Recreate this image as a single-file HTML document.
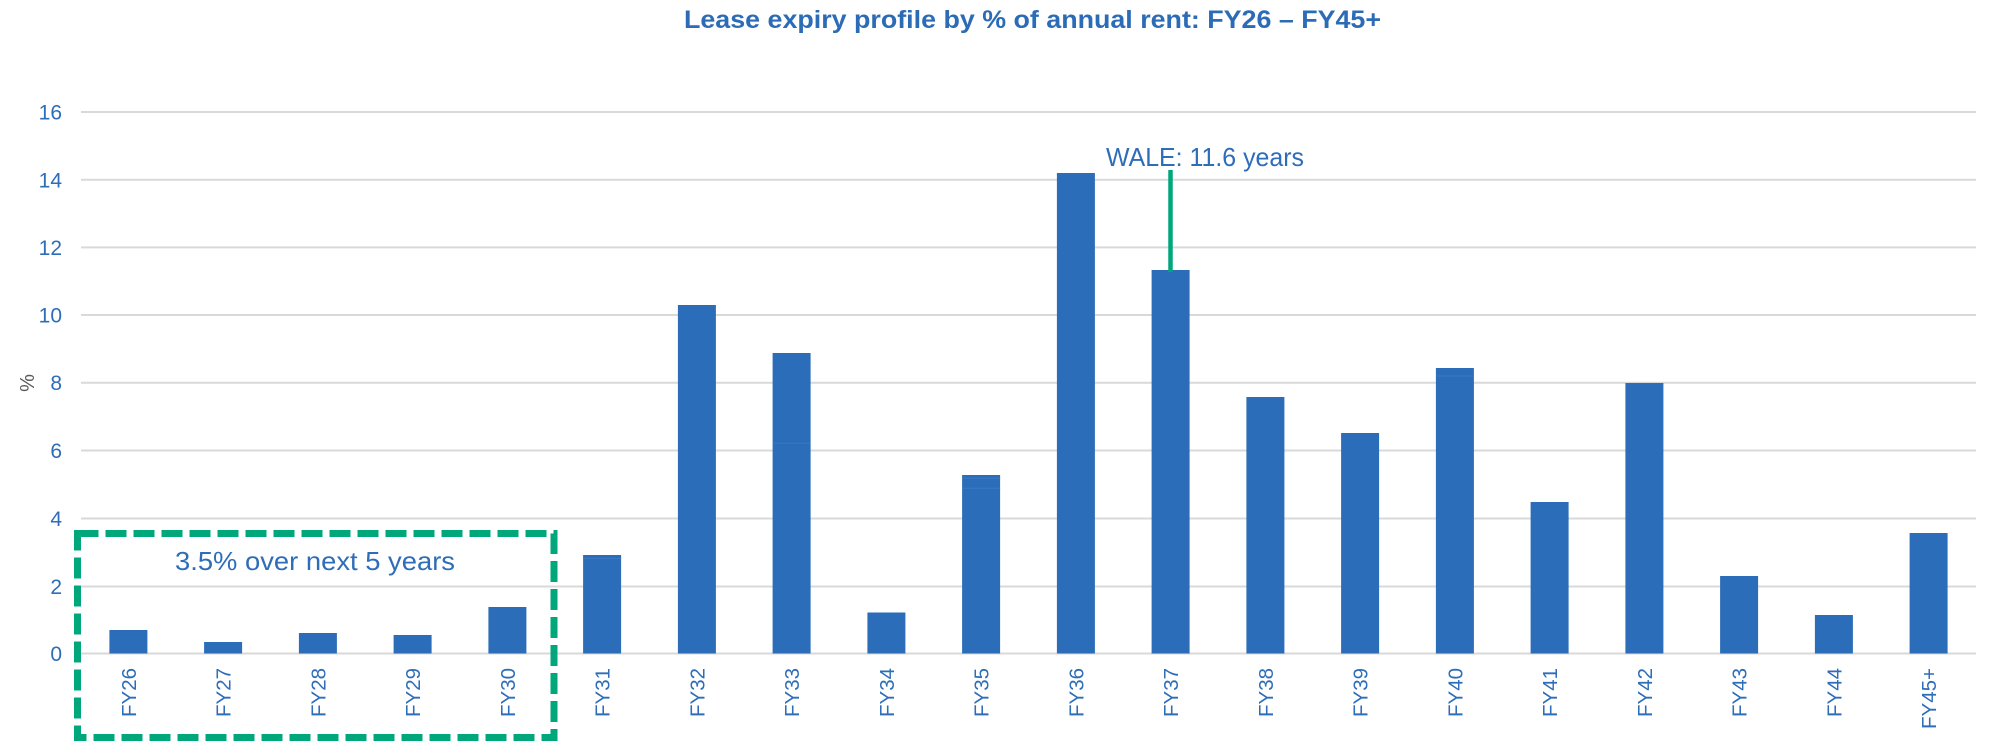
<!DOCTYPE html>
<html>
<head>
<meta charset="utf-8">
<style>
  html, body { margin: 0; padding: 0; background: #ffffff; }
  svg { display: block; }
  text { font-family: "Liberation Sans", Arial, sans-serif; }
</style>
</head>
<body>
<svg width="1993" height="751" viewBox="0 0 1993 751" xmlns="http://www.w3.org/2000/svg">
  <rect x="0" y="0" width="1993" height="751" fill="#ffffff"/>

  <!-- Title -->
  <text x="1032.5" y="28" text-anchor="middle" font-size="25" font-weight="bold" fill="#2c6cb6" textLength="697" lengthAdjust="spacingAndGlyphs">Lease expiry profile by % of annual rent: FY26 – FY45+</text>

  <!-- Gridlines -->
  <g stroke="#d9d9d9" stroke-width="2">
    <line x1="81" y1="112" x2="1976" y2="112"/>
    <line x1="81" y1="179.8" x2="1976" y2="179.8"/>
    <line x1="81" y1="247.4" x2="1976" y2="247.4"/>
    <line x1="81" y1="315" x2="1976" y2="315"/>
    <line x1="81" y1="382.7" x2="1976" y2="382.7"/>
    <line x1="81" y1="450.5" x2="1976" y2="450.5"/>
    <line x1="81" y1="518.5" x2="1976" y2="518.5"/>
    <line x1="81" y1="586.5" x2="1976" y2="586.5"/>
    <line x1="81" y1="653.5" x2="1976" y2="653.5"/>
  </g>

  <!-- Y labels -->
  <g font-size="21" fill="#2e6db8" text-anchor="end">
    <text x="62" y="119.5">16</text>
    <text x="62" y="187.3">14</text>
    <text x="62" y="254.9">12</text>
    <text x="62" y="322.5">10</text>
    <text x="62" y="390.2">8</text>
    <text x="62" y="458">6</text>
    <text x="62" y="526">4</text>
    <text x="62" y="594">2</text>
    <text x="62" y="661">0</text>
  </g>

  <!-- Y axis title -->
  <text transform="translate(34,383) rotate(-90)" text-anchor="middle" font-size="20" fill="#595959">%</text>

  <!-- Bars -->
  <g fill="#2b6db9">
    <rect x="109.4" y="630" width="38" height="23.5"/>
    <rect x="204.1" y="642" width="38" height="11.5"/>
    <rect x="298.9" y="633" width="38" height="20.5"/>
    <rect x="393.6" y="635" width="38" height="18.5"/>
    <rect x="488.4" y="607" width="38" height="46.5"/>
    <rect x="583.1" y="555" width="38" height="98.5"/>
    <rect x="677.9" y="305" width="38" height="348.5"/>
    <rect x="772.6" y="353" width="38" height="300.5"/>
    <rect x="867.4" y="612.5" width="38" height="41"/>
    <rect x="962.1" y="475" width="38" height="178.5"/>
    <rect x="1056.9" y="173" width="38" height="480.5"/>
    <rect x="1151.6" y="270" width="38" height="383.5"/>
    <rect x="1246.4" y="397" width="38" height="256.5"/>
    <rect x="1341.1" y="433" width="38" height="220.5"/>
    <rect x="1435.9" y="368" width="38" height="285.5"/>
    <rect x="1530.6" y="502" width="38" height="151.5"/>
    <rect x="1625.4" y="383" width="38" height="270.5"/>
    <rect x="1720.1" y="576" width="38" height="77.5"/>
    <rect x="1814.9" y="615" width="38" height="38.5"/>
    <rect x="1909.6" y="533" width="38" height="120.5"/>
  </g>
  <!-- subtle segment lines -->
  <g stroke="#3a78c2" stroke-width="1">
    <line x1="583.1" y1="558.5" x2="621.1" y2="558.5"/>
    <line x1="772.6" y1="443.3" x2="810.6" y2="443.3"/>
    <line x1="962.1" y1="478.3" x2="1000.1" y2="478.3"/>
    <line x1="962.1" y1="488.3" x2="1000.1" y2="488.3"/>
    <line x1="1435.9" y1="376" x2="1473.9" y2="376"/>
  </g>

  <!-- X labels -->
  <g font-size="20.5" fill="#2e6db8" text-anchor="end">
    <text transform="translate(135.9,668) rotate(-90)">FY26</text>
    <text transform="translate(230.6,668) rotate(-90)">FY27</text>
    <text transform="translate(325.4,668) rotate(-90)">FY28</text>
    <text transform="translate(420.1,668) rotate(-90)">FY29</text>
    <text transform="translate(514.9,668) rotate(-90)">FY30</text>
    <text transform="translate(609.6,668) rotate(-90)">FY31</text>
    <text transform="translate(704.4,668) rotate(-90)">FY32</text>
    <text transform="translate(799.1,668) rotate(-90)">FY33</text>
    <text transform="translate(893.9,668) rotate(-90)">FY34</text>
    <text transform="translate(988.6,668) rotate(-90)">FY35</text>
    <text transform="translate(1083.4,668) rotate(-90)">FY36</text>
    <text transform="translate(1178.1,668) rotate(-90)">FY37</text>
    <text transform="translate(1272.9,668) rotate(-90)">FY38</text>
    <text transform="translate(1367.6,668) rotate(-90)">FY39</text>
    <text transform="translate(1462.4,668) rotate(-90)">FY40</text>
    <text transform="translate(1557.1,668) rotate(-90)">FY41</text>
    <text transform="translate(1651.9,668) rotate(-90)">FY42</text>
    <text transform="translate(1746.6,668) rotate(-90)">FY43</text>
    <text transform="translate(1841.4,668) rotate(-90)">FY44</text>
    <text transform="translate(1936.1,668) rotate(-90)">FY45+</text>
  </g>

  <!-- WALE marker -->
  <line x1="1170.5" y1="170" x2="1170.5" y2="272" stroke="#00a77a" stroke-width="4.5"/>
  <text x="1106" y="166" font-size="26" fill="#2e6db8" textLength="198" lengthAdjust="spacingAndGlyphs">WALE: 11.6 years</text>

  <!-- Dashed box -->
  <rect x="77.5" y="533.5" width="476.5" height="204" fill="none" stroke="#00a77a" stroke-width="7" stroke-dasharray="21 7"/>
  <text x="175" y="570" font-size="26" fill="#2e6db8" textLength="280" lengthAdjust="spacingAndGlyphs">3.5% over next 5 years</text>
</svg>
</body>
</html>
